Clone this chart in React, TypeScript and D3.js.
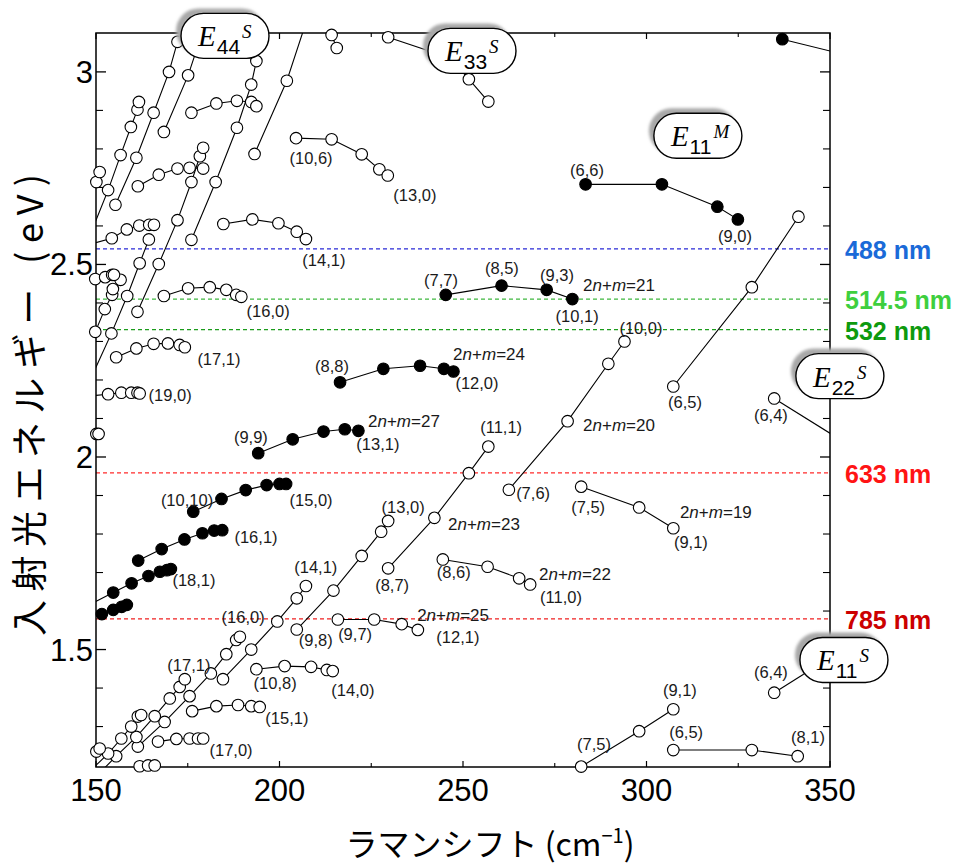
import * as d3 from "d3";

type Pt = [number, number];

const W = 957;
const H = 866;

// frame of the plot (px)
const LEFT = 96;
const RIGHT = 830;
const TOP = 33;
const BOTTOM = 767;

// axes
const xTicksMajor = [150, 200, 250, 300, 350];
const xTicksMinor = [175, 225, 275, 325];
const yTicksMajor = [1.5, 2, 2.5, 3];
const yTickLabels = ["1.5", "2", "2.5", "3"];
const yTicksMinor = [1.3, 1.4, 1.6, 1.7, 1.8, 1.9, 2.1, 2.2, 2.3, 2.4, 2.6, 2.7, 2.8, 2.9];

// semiconducting tubes (open circles), each array is one 2n+m family
const semiSeries: Pt[][] = [
  [[148.4, 2.577], [153.3, 2.693], [156.7, 2.784], [159.5, 2.857], [161.3, 2.902], [161.7, 2.922]],
  [[155.3, 2.655], [161.0, 2.777], [165.7, 2.894], [169.9, 3.0], [172.2, 3.078], [174.0, 3.135]],
  [[168.5, 2.844], [175.1, 2.991], [178.3, 3.083]],
  [[176.0, 2.564], [182.6, 2.714], [188.4, 2.855], [192.3, 2.967], [193.7, 3.028], [196.0, 3.122]],
  [[193.2, 2.787], [202.0, 2.977], [207.0, 3.122]],
  [[161.3, 2.377], [167.1, 2.501], [172.2, 2.615], [176.0, 2.714], [178.3, 2.781], [179.2, 2.803]],
  [[148.4, 2.2], [154.2, 2.321], [158.5, 2.418], [161.9, 2.503], [164.4, 2.565]],
  [[147.8, 2.278], [149.8, 2.325], [152.4, 2.384], [154.4, 2.421], [154.6, 2.436], [156.7, 2.46]],
  [[149.8, 2.462], [152.5, 2.467], [154.4, 2.473], [154.9, 2.473]],
  [[147.8, 2.551], [154.3, 2.568], [158.4, 2.591], [161.8, 2.601], [164.5, 2.603], [165.8, 2.603]],
  [[161.4, 2.703], [167.1, 2.733], [172.2, 2.749], [175.5, 2.751], [179.2, 2.749]],
  [[150.1, 2.714], [151.0, 2.74]],
  [[176.0, 2.894], [182.8, 2.918], [188.4, 2.925], [192.3, 2.922], [193.7, 2.911]],
  [[168.5, 2.418], [175.1, 2.438], [181.0, 2.441], [185.5, 2.434], [188.2, 2.421], [189.6, 2.416]],
  [[155.5, 2.259], [161.0, 2.282], [165.7, 2.294], [169.6, 2.295], [172.8, 2.291], [174.2, 2.285]],
  [[147.8, 2.158], [153.3, 2.163], [156.9, 2.167], [159.6, 2.167], [161.3, 2.167], [161.9, 2.165]],
  [[150.1, 2.06], [150.7, 2.06]],
  [[184.7, 2.605], [192.6, 2.617], [199.7, 2.607], [204.7, 2.585], [207.2, 2.566]],
  [[204.5, 2.828], [214.2, 2.825], [222.4, 2.786], [227.2, 2.747], [229.5, 2.731]],
  [[214.2, 3.096], [215.6, 3.062]],
  [[229.6, 3.09], [246.5, 3.036], [251.6, 2.981], [256.9, 2.923]],
  [[307.3, 2.183], [328.7, 2.441], [341.4, 2.624]],
  [[262.5, 1.915], [278.5, 2.093], [289.6, 2.242], [294.0, 2.3]],
  [[229.6, 1.711], [242.2, 1.842], [251.6, 1.958], [256.9, 2.027]],
  [[334.8, 2.152], [356.0, 2.026]],
  [[282.2, 1.923], [298.0, 1.869], [307.3, 1.815]],
  [[244.5, 1.734], [256.7, 1.715], [265.3, 1.685], [268.3, 1.669]],
  [[215.9, 1.578], [225.8, 1.578], [233.3, 1.566], [237.7, 1.551]],
  [[204.7, 1.552], [214.7, 1.653], [222.4, 1.743], [227.7, 1.806], [229.6, 1.834]],
  [[184.6, 1.423], [192.3, 1.5], [199.4, 1.573], [204.7, 1.633], [207.2, 1.665]],
  [[161.4, 1.248], [168.7, 1.312], [175.5, 1.379], [181.3, 1.438], [185.5, 1.488], [188.2, 1.525], [189.2, 1.533]],
  [[150.0, 1.17], [155.5, 1.223], [161.0, 1.273], [166.0, 1.327], [170.1, 1.373], [172.8, 1.403], [174.2, 1.423]],
  [[149.0, 1.19], [153.3, 1.23], [156.9, 1.269], [159.6, 1.3], [161.4, 1.326], [162.3, 1.33]],
  [[147.0, 1.2], [150.1, 1.235], [151.0, 1.243]],
  [[193.7, 1.449], [201.4, 1.457], [208.6, 1.455], [212.9, 1.447], [214.5, 1.444]],
  [[176.2, 1.34], [182.8, 1.353], [188.7, 1.356], [192.3, 1.353], [194.6, 1.351]],
  [[166.9, 1.261], [171.9, 1.268], [175.5, 1.269], [177.8, 1.269], [179.2, 1.269]],
  [[161.9, 1.197], [164.2, 1.199], [166.0, 1.199]],
  [[282.2, 1.196], [298.0, 1.288], [307.3, 1.345]],
  [[307.3, 1.239], [328.7, 1.239], [341.2, 1.223]],
  [[334.8, 1.388], [345.5, 1.452]],
];

// metallic tubes (filled circles)
const metalSeries: Pt[][] = [
  [[337.0, 3.085], [356.0, 3.04]],
  [[283.4, 2.708], [304.2, 2.708], [319.3, 2.65], [324.9, 2.617]],
  [[245.3, 2.421], [260.5, 2.445], [272.8, 2.434], [279.8, 2.41]],
  [[216.5, 2.194], [228.3, 2.229], [238.3, 2.237], [244.8, 2.229], [247.4, 2.222]],
  [[194.2, 2.01], [203.6, 2.046], [212.0, 2.066], [217.8, 2.072], [221.5, 2.068]],
  [[176.5, 1.858], [184.2, 1.891], [190.8, 1.914], [196.5, 1.927], [200.0, 1.93], [201.8, 1.93]],
  [[161.5, 1.731], [167.9, 1.761], [174.1, 1.786], [179.0, 1.802], [182.2, 1.809], [184.4, 1.81]],
  [[148.0, 1.615], [154.7, 1.648], [159.7, 1.672], [164.3, 1.691], [167.4, 1.702], [169.3, 1.706], [170.4, 1.709]],
  [[148.0, 1.58], [151.6, 1.592], [154.7, 1.603], [157.0, 1.611], [158.4, 1.616]],
];

// chirality labels: text, raman shift, energy (label centre)
const chiralLabels: [string, number, number][] = [
  ["(10,6)", 208.6, 2.777], ["(13,0)", 236.9, 2.681], ["(14,1)", 212.1, 2.512],
  ["(16,0)", 196.9, 2.379], ["(17,1)", 183.5, 2.255], ["(19,0)", 170.2, 2.161],
  ["(9,9)", 192.2, 2.052], ["(8,8)", 214.3, 2.236], ["(13,1)", 226.8, 2.034],
  ["(12,0)", 253.8, 2.192], ["(11,1)", 260.4, 2.078], ["(7,6)", 269.1, 1.906],
  ["(7,5)", 284.1, 1.87], ["(13,0)", 233.7, 1.87], ["(8,7)", 230.7, 1.668],
  ["(8,6)", 247.5, 1.701], ["(11,0)", 276.7, 1.636], ["(9,7)", 220.6, 1.54],
  ["(12,1)", 248.6, 1.532], ["(9,8)", 209.9, 1.525], ["(16,0)", 190.1, 1.584],
  ["(14,1)", 209.9, 1.714], ["(17,1)", 175.3, 1.46], ["(10,8)", 198.8, 1.413],
  ["(14,0)", 220.0, 1.395], ["(15,1)", 202.0, 1.322], ["(17,0)", 186.8, 1.239],
  ["(10,10)", 174.8, 1.888], ["(15,0)", 208.6, 1.888], ["(16,1)", 193.6, 1.792],
  ["(18,1)", 176.7, 1.681], ["(7,7)", 244.0, 2.46], ["(8,5)", 260.6, 2.491],
  ["(9,3)", 275.6, 2.473], ["(10,1)", 281.1, 2.366], ["(6,6)", 283.8, 2.745],
  ["(9,0)", 324.1, 2.574], ["(10,0)", 298.5, 2.335], ["(6,5)", 310.5, 2.143],
  ["(6,4)", 333.9, 2.109], ["(9,1)", 312.1, 1.779], ["(6,4)", 333.9, 1.442],
  ["(9,1)", 309.1, 1.395], ["(6,5)", 310.8, 1.286], ["(8,1)", 344.0, 1.273],
  ["(7,5)", 285.7, 1.255],
];

// 2n+m family labels: value, raman shift (left), energy (baseline)
const familyLabels: [number, number, number][] = [
  [24, 247.3, 2.252], [27, 224.1, 2.078], [23, 245.9, 1.81], [22, 270.7, 1.681],
  [25, 237.5, 1.574], [21, 282.7, 2.431], [20, 282.7, 2.068], [19, 309.1, 1.842],
];

// excitation lasers
const laserNames = ["488 nm", "514.5 nm", "532 nm", "633 nm", "785 nm"];
const laserWavelengths = [488, 514.5, 532, 633, 785];
const laserLineColors = ["#2a2ad6", "#3fb83f", "#1c9c1c", "#ff2b2b", "#f02020"];
const laserTextColors = ["#1a6ad8", "#3ecf3e", "#0e9a0e", "#ff1414", "#cc0000"];

// transition band labels
const bandSubs = ["44", "33", "11", "22", "11"];
const bandSups = ["S", "S", "M", "S", "S"];
const bandX = [185.15, 252.45, 314.0, 352.7, 353.8];
const bandY = [3.0935, 3.0545, 2.834, 2.21, 1.473];

const x = d3.scaleLinear().domain([150, 350]).range([LEFT, RIGHT]);
const y = d3.scaleLinear().domain([1.195, 3.101]).range([BOTTOM, TOP]);

const line = d3
  .line<Pt>()
  .x((d) => x(d[0]))
  .y((d) => y(d[1]));

const inView = (d: Pt) => d[0] >= 149.5 && d[0] <= 350 && d[1] >= 1.19 && d[1] <= 3.105;

const SANS = "'Liberation Sans', Arial, sans-serif";
const SERIF = "'Liberation Serif', 'Times New Roman', serif";
const CJK = "'Noto Sans CJK JP', sans-serif";

const App = () => {
  const R = 5.8;
  return (
    <svg
      width={W}
      height={H}
      style={{ position: "absolute", left: 0, top: 0, background: "#fff" }}
    >
      <defs>
        <clipPath id="plotClip">
          <rect x={LEFT} y={TOP} width={RIGHT - LEFT} height={BOTTOM - TOP} />
        </clipPath>
        <filter id="soft" x="-20%" y="-20%" width="140%" height="140%">
          <feGaussianBlur stdDeviation="1.6" />
        </filter>
      </defs>

      {/* laser lines */}
      {laserWavelengths.map((wl, i) => {
        const ev = 1239.84 / wl;
        return (
          <g key={wl}>
            <line
              x1={LEFT}
              x2={RIGHT}
              y1={y(ev)}
              y2={y(ev)}
              stroke={laserLineColors[i]}
              strokeWidth={1.2}
              strokeDasharray="4,3"
            />
            <text
              x={845}
              y={y(ev) + 10}
              fontFamily={SANS}
              fontWeight="bold"
              fontSize={25}
              fill={laserTextColors[i]}
            >
              {laserNames[i]}
            </text>
          </g>
        );
      })}

      {/* frame */}
      <rect
        x={LEFT}
        y={TOP}
        width={RIGHT - LEFT}
        height={BOTTOM - TOP}
        fill="none"
        stroke="#000"
        strokeWidth={1.5}
      />
      {yTicksMajor.map((t) => (
        <g key={"ym" + t}>
          <line x1={LEFT} x2={LEFT + 10} y1={y(t)} y2={y(t)} stroke="#000" strokeWidth={1.3} />
          <line x1={RIGHT} x2={RIGHT - 10} y1={y(t)} y2={y(t)} stroke="#000" strokeWidth={1.3} />
        </g>
      ))}
      {yTicksMinor.map((t) => (
        <g key={"yn" + t}>
          <line x1={LEFT} x2={LEFT + 7} y1={y(t)} y2={y(t)} stroke="#000" strokeWidth={1.1} />
          <line x1={RIGHT} x2={RIGHT - 7} y1={y(t)} y2={y(t)} stroke="#000" strokeWidth={1.1} />
        </g>
      ))}
      {xTicksMajor.map((t) => (
        <g key={"xm" + t}>
          <line x1={x(t)} x2={x(t)} y1={BOTTOM} y2={BOTTOM - 6} stroke="#000" strokeWidth={1.2} />
          <line x1={x(t)} x2={x(t)} y1={TOP} y2={TOP + 6} stroke="#000" strokeWidth={1.2} />
          <text
            x={x(t)}
            y={801}
            textAnchor="middle"
            fontFamily={SANS}
            fontSize={31}
          >
            {t}
          </text>
        </g>
      ))}
      {xTicksMinor.map((t) => (
        <g key={"xn" + t}>
          <line x1={x(t)} x2={x(t)} y1={BOTTOM} y2={BOTTOM - 4} stroke="#000" strokeWidth={1.1} />
          <line x1={x(t)} x2={x(t)} y1={TOP} y2={TOP + 4} stroke="#000" strokeWidth={1.1} />
        </g>
      ))}
      {yTicksMajor.map((t, i) => (
        <text
          key={"yl" + t}
          x={93}
          y={y(t) + 11}
          textAnchor="end"
          fontFamily={SANS}
          fontSize={31}
        >
          {yTickLabels[i]}
        </text>
      ))}

      {/* family lines */}
      <g clipPath="url(#plotClip)" fill="none" stroke="#000" strokeWidth={1.1}>
        {semiSeries.map((s, i) => (
          <path key={"sl" + i} d={line(s) ?? ""} />
        ))}
        {metalSeries.map((s, i) => (
          <path key={"ml" + i} d={line(s) ?? ""} />
        ))}
      </g>

      {/* markers */}
      <g stroke="#000" strokeWidth={1.1}>
        {semiSeries.flatMap((s, i) =>
          s.filter(inView).map((d, j) => (
            <circle key={`s${i}-${j}`} cx={x(d[0])} cy={y(d[1])} r={R} fill="#fff" />
          ))
        )}
        {metalSeries.flatMap((s, i) =>
          s.filter(inView).map((d, j) => (
            <circle key={`m${i}-${j}`} cx={x(d[0])} cy={y(d[1])} r={R} fill="#000" />
          ))
        )}
      </g>

      {/* chirality labels */}
      <g fontFamily={SANS} fontSize={16.5} fill="#1a1a1a" textAnchor="middle">
        {chiralLabels.map(([t, cx, cy], i) => (
          <text key={"c" + i} x={x(cx)} y={y(cy)} dy="0.36em">
            {t}
          </text>
        ))}
      </g>
      <g fontFamily={SANS} fontSize={17} fill="#1a1a1a">
        {familyLabels.map(([v, lx, ly]) => (
          <text key={"f" + v} x={x(lx)} y={y(ly)}>
            2<tspan fontStyle="italic">n</tspan>+<tspan fontStyle="italic">m</tspan>={v}
          </text>
        ))}
      </g>

      {/* band boxes */}
      {bandSubs.map((sub, i) => {
        const cx = x(bandX[i]);
        const cy = y(bandY[i]);
        const w = 88;
        const h = 45;
        const L = cx - w / 2;
        const T = cy - h / 2;
        return (
          <g key={"b" + i}>
            <rect
              x={L - 5}
              y={T - 5}
              width={w}
              height={h}
              rx={h / 2}
              fill="#a8a8a8"
              filter="url(#soft)"
            />
            <rect
              x={L}
              y={T}
              width={w}
              height={h}
              rx={h / 2}
              fill="#fff"
              stroke="#000"
              strokeWidth={1.4}
            />
            <text x={L + 17} y={T + 33} fill="#000">
              <tspan fontFamily={SERIF} fontStyle="italic" fontSize={29}>
                E
              </tspan>
              <tspan fontFamily={SANS} fontSize={21} dy={8} dx={1}>
                {sub}
              </tspan>
              <tspan fontFamily={SERIF} fontStyle="italic" fontSize={19} dy={-16} dx={2}>
                {bandSups[i]}
              </tspan>
            </text>
          </g>
        );
      })}

      {/* axis titles */}
      <text
        transform="translate(27,405) rotate(-90)"
        textAnchor="middle"
        dominantBaseline="central"
        fontFamily={CJK}
        fontSize={36}
        textLength={462}
        lengthAdjust="spacing"
      >
        入射光エネルギー (eV)
      </text>
      <text x={490} y={856} textAnchor="middle" fontFamily={CJK} fontSize={32}>
        ラマンシフト (cm
        <tspan fontSize={20} dy={-13}>
          −1
        </tspan>
        <tspan dy={13}>)</tspan>
      </text>
    </svg>
  );
};

export default App;
